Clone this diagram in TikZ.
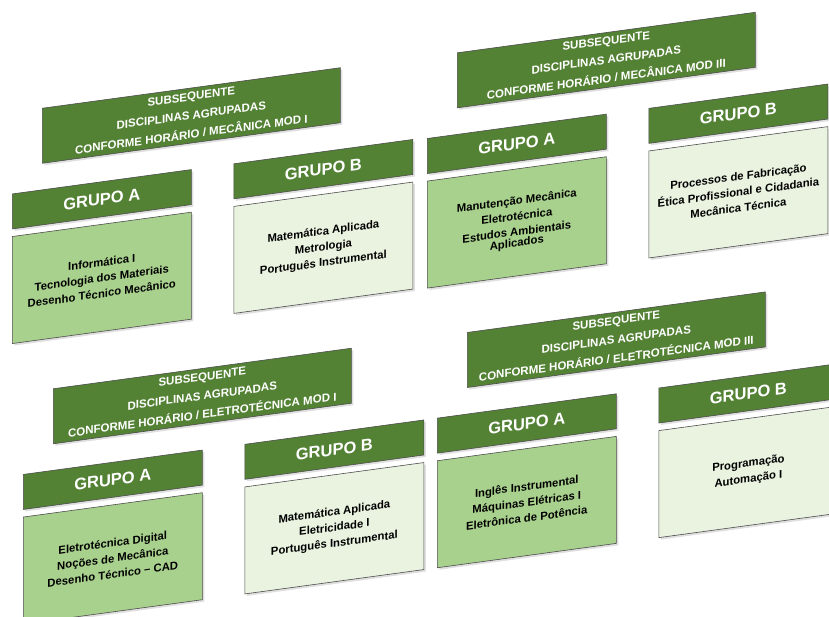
\documentclass[tikz,border=0pt]{standalone}
\usepackage{fontspec}
\setmainfont{Liberation Sans}
\usepackage{tikz}
\usetikzlibrary{positioning,shadows}
\definecolor{VerdeEscuro}{HTML}{548235}
\definecolor{VerdeMedio}{HTML}{A9D18E}
\definecolor{VerdeClaro}{HTML}{E9F3E0}

\begin{document}
\begin{tikzpicture}[
    x=1pt, y=-1pt,
    node distance=7pt and 42pt,
    caixa/.style={draw=black!70, rectangle, inner sep=0pt, align=center, line width=0.6pt, transform shape, drop shadow={shadow xshift=2pt, shadow yshift=-2pt, opacity=0.25}},
    titulo/.style={caixa, fill=VerdeEscuro, text=white, minimum width=298pt, minimum height=55pt, font=\fontsize{11.5}{19}\selectfont\bfseries},
    grupo/.style={caixa, fill=VerdeEscuro, text=white, minimum width=179pt, minimum height=35pt, font=\fontsize{16.5}{18}\selectfont\bfseries},
    discA/.style={caixa, fill=VerdeMedio, minimum width=179pt, minimum height=107pt, font=\fontsize{11.3}{15.7}\selectfont\bfseries},
    discB/.style={discA, fill=VerdeClaro}
]
    \useasboundingbox (0,0) rectangle (829,617);

    % plano inclinado com os quatro quadros
    \begin{scope}[shift={(42,108)}, yslant=0.136]

    % Mecanica - modulo I
    \node[titulo, anchor=north west] (titMecI) at (0,0) {SUBSEQUENTE\\DISCIPLINAS AGRUPADAS\\CONFORME HORÁRIO / MECÂNICA MOD I};
    \node[grupo, below=26pt of titMecI.south west, anchor=north west, xshift=-30pt] (grpAMecI) {GRUPO A};
    \node[discA, below=of grpAMecI] (discAMecI) {Informática I\\Tecnologia dos Materiais\\Desenho Técnico Mecânico};
    \node[grupo, right=of grpAMecI] (grpBMecI) {GRUPO B};
    \node[discB, below=of grpBMecI] (discBMecI) {Matemática Aplicada\\Metrologia\\Português Instrumental};

    % Mecanica - modulo III
    \node[titulo, anchor=north west] (titMecIII) at (415,1) {SUBSEQUENTE\\DISCIPLINAS AGRUPADAS\\CONFORME HORÁRIO / MECÂNICA MOD III};
    \node[grupo, below=26pt of titMecIII.south west, anchor=north west, xshift=-30pt] (grpAMecIII) {GRUPO A};
    \node[discA, below=of grpAMecIII] (discAMecIII) {Manutenção Mecânica\\Eletrotécnica\\Estudos Ambientais\\[-5pt]Aplicados};
    \node[grupo, right=of grpAMecIII] (grpBMecIII) {GRUPO B};
    \node[discB, below=of grpBMecIII] (discBMecIII) {Processos de Fabricação\\Ética Profissional e Cidadania\\Mecânica Técnica};

    % Eletrotecnica - modulo I
    \node[titulo, anchor=north west] (titEleI) at (11,282) {SUBSEQUENTE\\DISCIPLINAS AGRUPADAS\\CONFORME HORÁRIO / ELETROTÉCNICA MOD I};
    \node[grupo, below=26pt of titEleI.south west, anchor=north west, xshift=-30pt] (grpAEleI) {GRUPO A};
    \node[discA, below=of grpAEleI] (discAEleI) {Eletrotécnica Digital\\Noções de Mecânica\\Desenho Técnico – CAD};
    \node[grupo, right=of grpAEleI] (grpBEleI) {GRUPO B};
    \node[discB, below=of grpBEleI] (discBEleI) {Matemática Aplicada\\Eletricidade I\\Português Instrumental};

    % Eletrotecnica - modulo III
    \node[titulo, anchor=north west] (titEleIII) at (425,282) {SUBSEQUENTE\\DISCIPLINAS AGRUPADAS\\CONFORME HORÁRIO / ELETROTÉCNICA MOD III};
    \node[grupo, below=26pt of titEleIII.south west, anchor=north west, xshift=-30pt] (grpAEleIII) {GRUPO A};
    \node[discA, below=of grpAEleIII] (discAEleIII) {Inglês Instrumental\\Máquinas Elétricas I\\Eletrônica de Potência};
    \node[grupo, right=of grpAEleIII] (grpBEleIII) {GRUPO B};
    \node[discB, below=of grpBEleIII] (discBEleIII) {Programação\\Automação I};

    \end{scope}
\end{tikzpicture}
\end{document}
